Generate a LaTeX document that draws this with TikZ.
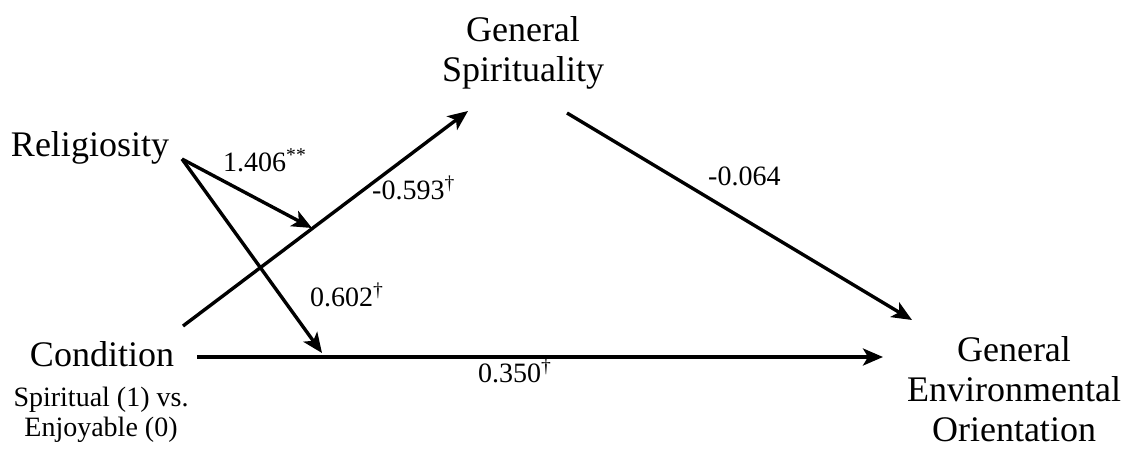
\documentclass[tikz,border=0pt]{standalone}
\usepackage{fontspec}
\setmainfont{Liberation Serif}
\usetikzlibrary{arrows.meta}
\begin{document}
\begin{tikzpicture}[x=1pt,y=-1pt,
  lbl/.style={inner sep=0pt, font=\fontsize{36}{40}\selectfont, align=center},
  sub/.style={inner sep=0pt, font=\fontsize{28}{30}\selectfont, align=center},
  num/.style={inner sep=0pt, anchor=base west, font=\fontsize{28}{30}\selectfont},
  conn/.style={line width=3.4pt, -{Stealth[length=20pt,width=17pt,inset=5pt]}}]
\useasboundingbox (0,0) rectangle (1125,448);
% nodes (base anchor of a multi-line node = last line)
\node[lbl, anchor=base] (relig) at (90,156) {Religiosity};
\node[lbl, anchor=base] (spirit) at (523,81) {General\\Spirituality};
\node[lbl, anchor=base] (cond) at (102,366) {Condition};
\node[sub, anchor=base] (condsub) at (101,436) {Spiritual (1) vs.\\Enjoyable (0)};
\node[lbl, anchor=base] (env) at (1014,441) {General\\Environmental\\Orientation};
% endpoints
\coordinate (rs) at (182,159);
\coordinate (m1) at (312,228);
\coordinate (m2) at (322,353);
\coordinate (cs) at (183,326);
\coordinate (st) at (468,111);
\coordinate (ss) at (567,113);
\coordinate (et) at (912,320);
\coordinate (hs) at (197,357);
\coordinate (ht) at (883,357);
% connectors
\draw[conn] (cs) -- (st);
\draw[conn] (ss) -- (et);
\draw[conn] (hs) -- (ht);
\draw[conn] (rs) -- (m1);
\draw[conn] (rs) -- (m2);
% labels
\node[num] (l1) at (223,171) {1.406\textsuperscript{**}};
\node[num] (l2) at (372,199) {-0.593\textsuperscript{\dag}};
\node[num] (l3) at (310,306) {0.602\textsuperscript{\dag}};
\node[num] (l4) at (478,382) {0.350\textsuperscript{\dag}};
\node[num] (l5) at (708,185) {-0.064};
\end{tikzpicture}
\end{document}
